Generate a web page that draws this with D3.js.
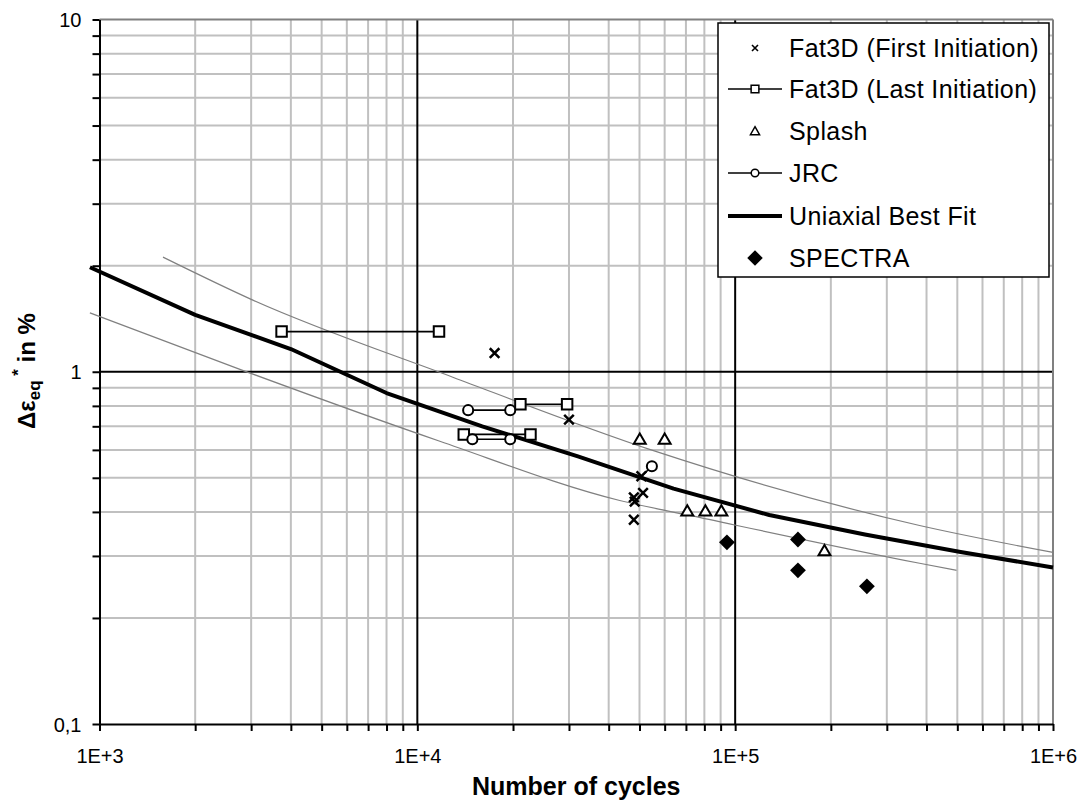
<!DOCTYPE html>
<html><head><meta charset="utf-8">
<script src="https://cdn.jsdelivr.net/npm/d3@7"></script>
<style>
body{margin:0;background:#fff}
svg{display:block}
text{font-family:"Liberation Sans",Arial,sans-serif;fill:#000}
</style>
</head><body><svg id="c" width="1083" height="802"></svg>
<script>
// ---------- data ----------
const xTickValues = [1e3, 1e4, 1e5, 1e6];
const xTickLabels = ["1E+3", "1E+4", "1E+5", "1E+6"];
const yTickValues = [0.1, 1, 10];
const yTickLabels = ["0,1", "1", "10"];

const fat3dFirst = [[17500,1.13],[30000,0.731],[50700,0.505],[51300,0.453],[48000,0.44],[48300,0.428],[48000,0.38]];
const fat3dLast = [
  [[3740,1.30],[11700,1.30]],
  [[21100,0.809],[29600,0.809]],
  [[14000,0.664],[22700,0.664]]
];
const splash = [[50100,0.643],[60000,0.643],[70700,0.402],[80600,0.402],[90500,0.402],[191000,0.31]];
const jrcSegments = [
  [[14450,0.778],[19600,0.778]],
  [[14900,0.643],[19600,0.643]],
  [[50700,0.505],[54700,0.539]]
];
const jrcPoints = [[14450,0.778],[19600,0.778],[14900,0.643],[19600,0.643],[54700,0.539]];
const spectra = [[94200,0.328],[157600,0.334],[157600,0.273],[259700,0.246]];
const bestFit = [[933,1.98],[2000,1.45],[4000,1.16],[8000,0.87],[16000,0.70],[32000,0.575],[64000,0.466],[128000,0.392],[256000,0.345],[512000,0.308],[1e6,0.278]];
const bandUpper = [[1584,2.115],[3038,1.597],[12930,0.965],[55030,0.598],[380400,0.366],[1e6,0.307]];
const bandLower = [[933,1.47],[2766,1.016],[11770,0.635],[43330,0.431],[71930,0.391],[380400,0.286],[497000,0.273]];
const legendLabels = ["Fat3D (First Initiation)","Fat3D (Last Initiation)","Splash","JRC","Uniaxial Best Fit","SPECTRA"];

// ---------- chart ----------
const svg = d3.select("#c");
const x = d3.scaleLog().domain([1e3, 1e6]).range([99.5, 1053]);
const y = d3.scaleLog().domain([0.1, 10]).range([724, 19.5]);
const [X0, X1] = x.range();
const [Y0, Y1] = y.range();

// minor grid
const minorX = [], minorY = [];
[1e3,1e4,1e5].forEach(d => { for (let k=2;k<=9;k++) minorX.push(d*k); });
[0.1,1].forEach(d => { for (let k=2;k<=9;k++) minorY.push(d*k); });
const g = svg.append("g");
g.selectAll(".gx").data(minorX).join("line")
  .attr("x1", d=>x(d)).attr("x2", d=>x(d)).attr("y1", Y0).attr("y2", Y1)
  .attr("stroke", "#c0c0c0").attr("stroke-width", 2);
g.selectAll(".gy").data(minorY).join("line")
  .attr("y1", d=>y(d)).attr("y2", d=>y(d)).attr("x1", X0).attr("x2", X1)
  .attr("stroke", "#c0c0c0").attr("stroke-width", 2);
// major grid
g.selectAll(".mx").data([1e4,1e5]).join("line")
  .attr("x1", d=>x(d)).attr("x2", d=>x(d)).attr("y1", Y0).attr("y2", Y1)
  .attr("stroke", "#000").attr("stroke-width", 2);
g.selectAll(".my").data([1]).join("line")
  .attr("y1", d=>y(d)).attr("y2", d=>y(d)).attr("x1", X0).attr("x2", X1)
  .attr("stroke", "#000").attr("stroke-width", 2);
// plot border (top / right)
g.append("line").attr("x1", X0).attr("x2", X1).attr("y1", y(10)).attr("y2", y(10)).attr("stroke", "#808080").attr("stroke-width", 2);
g.append("line").attr("x1", x(1e6)).attr("x2", x(1e6)).attr("y1", Y0).attr("y2", Y1).attr("stroke", "#808080").attr("stroke-width", 2);

// axes
const allX = xTickValues.concat(minorX).sort((a,b)=>a-b);
const allY = yTickValues.concat(minorY).sort((a,b)=>a-b);
const xAxis = d3.axisBottom(x).tickValues(allX).tickSize(7).tickSizeOuter(0)
  .tickFormat(d => { const i = xTickValues.indexOf(d); return i >= 0 ? xTickLabels[i] : ""; });
const yAxis = d3.axisLeft(y).tickValues(allY).tickSize(7).tickSizeOuter(0)
  .tickFormat(d => { const i = yTickValues.findIndex(v => Math.abs(v-d) < 1e-9); return i >= 0 ? yTickLabels[i] : ""; });
const gx = svg.append("g").attr("transform", `translate(0,${Y0})`).call(xAxis);
const gy = svg.append("g").attr("transform", `translate(${X0},0)`).call(yAxis);
[gx, gy].forEach(a => {
  a.select(".domain").attr("stroke", "#000").attr("stroke-width", 2);
  a.selectAll(".tick line").attr("stroke", "#000").attr("stroke-width", 2);
  a.selectAll(".tick text").attr("font-family", "'Liberation Sans', Arial, sans-serif").attr("font-size", 20).attr("fill", "#000");
});
gx.selectAll(".tick text").attr("y", 39).attr("dy", 0);
gy.selectAll(".tick text").attr("x", -18).attr("dy", "0.36em");

// band lines
const line = d3.line().x(d=>x(d[0])).y(d=>y(d[1]));
const smooth = d3.line().x(d=>x(d[0])).y(d=>y(d[1])).curve(d3.curveMonotoneX);
svg.append("path").attr("d", smooth(bandUpper)).attr("fill","none").attr("stroke","#808080").attr("stroke-width",1.2);
svg.append("path").attr("d", smooth(bandLower)).attr("fill","none").attr("stroke","#808080").attr("stroke-width",1.2);
// best fit
svg.append("path").attr("d", line(bestFit)).attr("fill","none").attr("stroke","#000").attr("stroke-width",4).attr("stroke-linejoin","round");

// connecting lines
fat3dLast.concat(jrcSegments).forEach(seg => {
  svg.append("path").attr("d", line(seg)).attr("fill","none").attr("stroke","#000").attr("stroke-width",1.6);
});

// markers
const sq = d3.symbol().type(d3.symbolSquare).size(110);
const circ = d3.symbol().type(d3.symbolCircle).size(80);
const tri = d3.symbol().type(d3.symbolTriangle).size(62);
const dia = d3.symbol().type(d3.symbolSquare).size(125);
const xPath = s => `M${-s},${-s}L${s},${s}M${-s},${s}L${s},${-s}`;

svg.selectAll(".sq").data(fat3dLast.flat()).join("path")
  .attr("transform", d=>`translate(${x(d[0])},${y(d[1])})`).attr("d", sq)
  .attr("fill","#fff").attr("stroke","#000").attr("stroke-width",2);
svg.selectAll(".ci").data(jrcPoints).join("path")
  .attr("transform", d=>`translate(${x(d[0])},${y(d[1])})`).attr("d", circ)
  .attr("fill","#fff").attr("stroke","#000").attr("stroke-width",2);
svg.selectAll(".tr").data(splash).join("path")
  .attr("transform", d=>`translate(${x(d[0])},${y(d[1])+1})`).attr("d", tri)
  .attr("fill","#fff").attr("stroke","#000").attr("stroke-width",2);
svg.selectAll(".xx").data(fat3dFirst).join("path")
  .attr("transform", d=>`translate(${x(d[0])},${y(d[1])})`).attr("d", xPath(4.8))
  .attr("fill","none").attr("stroke","#000").attr("stroke-width",2.5);
svg.selectAll(".di").data(spectra).join("path")
  .attr("transform", d=>`translate(${x(d[0])},${y(d[1])}) rotate(45)`).attr("d", dia)
  .attr("fill","#000").attr("stroke","none");

// axis titles
svg.append("text").attr("x", (X0+X1)/2).attr("y", 795).attr("text-anchor","middle")
  .attr("font-size", 25).attr("font-weight","bold").text("Number of cycles");
const yt = svg.append("text").attr("transform","translate(35,371) rotate(-90)").attr("text-anchor","middle")
  .attr("font-size", 24).attr("font-weight","bold");
yt.append("tspan").text("\u0394\u03b5");
yt.append("tspan").attr("font-size", 17).attr("dy", 5).text("eq");
yt.append("tspan").attr("font-size", 17).attr("dy", -16).text(" *");
yt.append("tspan").attr("dy", 11).text(" in %");

// legend
const lg = svg.append("g");
lg.append("rect").attr("x", 718).attr("y", 23).attr("width", 331).attr("height", 254)
  .attr("fill","#fff").attr("stroke","#000").attr("stroke-width",1.5);
const rowY = [48, 89, 131, 173, 216, 258];
const sx = 755;
lg.selectAll(".lt").data(legendLabels).join("text")
  .attr("x", 789).attr("y", (d,i)=>rowY[i]).attr("dy","0.36em").attr("font-size", 25)
  .attr("letter-spacing", 0.4).text(d=>d);
// row 0: x
lg.append("path").attr("transform",`translate(${sx},${rowY[0]})`).attr("d", xPath(3)).attr("stroke","#000").attr("stroke-width",1.6).attr("fill","none");
// row 1: line + square
lg.append("line").attr("x1",728).attr("x2",782).attr("y1",rowY[1]).attr("y2",rowY[1]).attr("stroke","#000").attr("stroke-width",1.5);
lg.append("path").attr("transform",`translate(${sx},${rowY[1]})`).attr("d", d3.symbol().type(d3.symbolSquare).size(60)).attr("fill","#fff").attr("stroke","#000").attr("stroke-width",1.5);
// row 2: triangle
lg.append("path").attr("transform",`translate(${sx},${rowY[2]+1})`).attr("d", d3.symbol().type(d3.symbolTriangle).size(36)).attr("fill","#fff").attr("stroke","#000").attr("stroke-width",1.5);
// row 3: line + circle
lg.append("line").attr("x1",728).attr("x2",782).attr("y1",rowY[3]).attr("y2",rowY[3]).attr("stroke","#000").attr("stroke-width",1.5);
lg.append("path").attr("transform",`translate(${sx},${rowY[3]})`).attr("d", d3.symbol().type(d3.symbolCircle).size(45)).attr("fill","#fff").attr("stroke","#000").attr("stroke-width",1.5);
// row 4: thick line
lg.append("line").attr("x1",728).attr("x2",782).attr("y1",rowY[4]).attr("y2",rowY[4]).attr("stroke","#000").attr("stroke-width",4);
// row 5: diamond
lg.append("path").attr("transform",`translate(${sx},${rowY[5]}) rotate(45)`).attr("d", d3.symbol().type(d3.symbolSquare).size(120)).attr("fill","#000");
</script>
</body></html>
